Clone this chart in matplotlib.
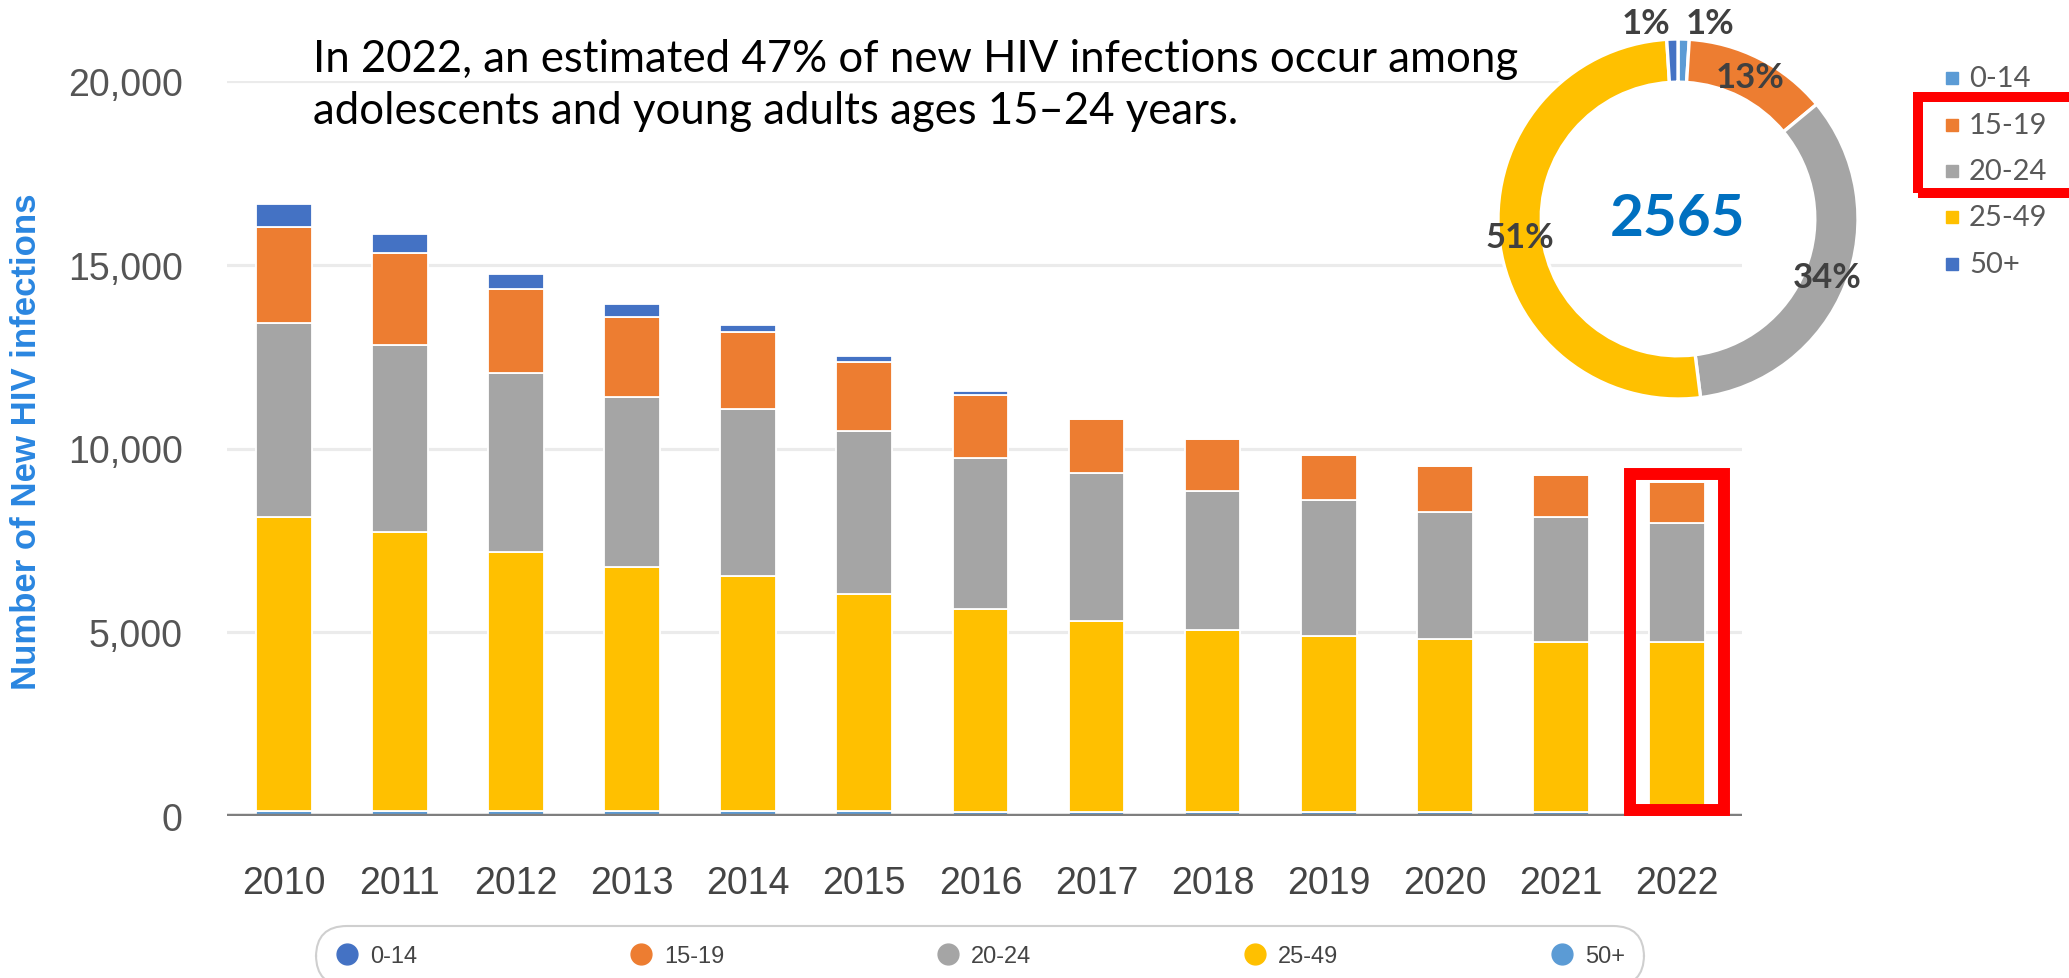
import numpy as np
import matplotlib
matplotlib.use("Agg")
import matplotlib.pyplot as plt
from matplotlib.patches import Rectangle
from matplotlib.lines import Line2D

years = ["2010", "2011", "2012", "2013", "2014", "2015", "2016",
         "2017", "2018", "2019", "2020", "2021", "2022"]
age_groups = ["0-14", "15-19", "20-24", "25-49", "50+"]

# stacked values
v_0_14 = [625, 516, 408, 361, 198, 163, 110, 0, 0, 0, 0, 0, 0]
v_15_19 = [2611, 2495, 2284, 2176, 2087, 1877, 1700, 1468, 1422, 1216, 1235, 1158, 1123]
v_20_24 = [5285, 5102, 4877, 4624, 4550, 4426, 4110, 4018, 3765, 3699, 3463, 3400, 3245]
v_25_49 = [7989, 7581, 7037, 6629, 6384, 5902, 5541, 5203, 4958, 4795, 4705, 4616, 4616]
v_50_plus = [136, 136, 137, 137, 137, 137, 100, 109, 109, 109, 109, 109, 109]

donut_pct = [1, 13, 34, 51, 1]     # 0-14, 15-19, 20-24, 25-49, 50+ (2022)
donut_total = "2565"

bar_colors = {"0-14": "#4472C4", "15-19": "#ED7D31", "20-24": "#A5A5A5",
              "25-49": "#FFC000", "50+": "#5B9BD5"}
donut_colors = ["#5B9BD5", "#ED7D31", "#A5A5A5", "#FFC000", "#4472C4"]

W, H = 2069, 979
fig = plt.figure(figsize=(W / 100, H / 100), dpi=100)
fig.patch.set_facecolor("white")

# main bar axes
ax = fig.add_axes([227 / W, (H - 817) / H, (1742 - 227) / W, (817 - 82) / H])
x = np.arange(len(years))
bw = 0.48
stack = [("50+", v_50_plus), ("25-49", v_25_49), ("20-24", v_20_24),
         ("15-19", v_15_19), ("0-14", v_0_14)]
bottom = np.zeros(len(years))
for name, vals in stack:
    vals = np.array(vals, dtype=float)
    ax.bar(x, vals, bw, bottom=bottom, color=bar_colors[name],
           edgecolor="white", linewidth=1.3, zorder=3)
    bottom += vals

ax.set_xlim(-0.49, 12.56)
ax.set_ylim(0, 20000)
ax.set_yticks([0, 5000, 10000, 15000, 20000])
ax.set_yticklabels(["0", "5,000", "10,000", "15,000", "20,000"])
ax.grid(axis="y", color="#ebebeb", linewidth=2.3, zorder=0)
ax.set_axisbelow(True)
for s in ax.spines.values():
    s.set_visible(False)
ax.axhline(0, color="#7f7f7f", linewidth=3.2, zorder=4)
ax.set_xticks(x)
ax.set_xticklabels(years)
ax.tick_params(axis="both", length=0, colors="#444444", labelsize=27)
ax.tick_params(axis="y", pad=32, labelcolor="#555555")
ax.tick_params(axis="x", pad=35)
for lab in ax.get_xticklabels() + ax.get_yticklabels():
    lab.set_fontfamily("Liberation Sans")
ax.set_ylabel("Number of New HIV infections", fontsize=25, fontweight="bold",
              color="#2a86e0", family="Liberation Sans")
ax.yaxis.set_label_coords(-184 / (1742 - 227), 0.51)

# red highlight around 2022 bar
ax.add_patch(Rectangle((12 - 0.405, 163), 0.81, 9140, fill=False,
                       edgecolor="#ff0000", linewidth=8.6, clip_on=False, zorder=6))

# headline text
fig.text(313 / W, 1 - 59 / H,
         "In 2022, an estimated 47% of new HIV infections occur among",
         fontsize=31.5, family="Lato", va="center", ha="left", color="black")
fig.text(313 / W, 1 - 111 / H,
         "adolescents and young adults ages 15\u201324 years.",
         fontsize=31.5, family="Lato", va="center", ha="left", color="black")

# donut
cx, cy, R = 1678, 220, 180
ax2 = fig.add_axes([(cx - R) / W, (H - cy - R) / H, 2 * R / W, 2 * R / H])
ax2.pie(donut_pct, colors=donut_colors, startangle=90, counterclock=False,
        radius=1, wedgeprops=dict(width=0.24, edgecolor="white", linewidth=2.4))
ax2.set_xlim(-1, 1)
ax2.set_ylim(-1, 1)
ax2.axis("off")
ax2.text(0, 0, donut_total, fontsize=42, fontweight="bold", color="#0070C0",
         family="Lato", ha="center", va="center")
lbl_pos = [(0.18, 1.09), (0.40, 0.79), (0.83, -0.32), (-0.88, -0.10), (-0.18, 1.09)]
for p, (px, py) in zip(donut_pct, lbl_pos):
    ax2.text(px, py, f"{p}%", fontsize=25, fontweight="bold", color="#404040",
             family="Lato", ha="center", va="center")

# donut legend (right)
row_y = [79, 126, 172, 218, 265]
for lab, c, ry in zip(age_groups, donut_colors, row_y):
    fig.add_artist(Line2D([1951.5 / W], [1 - ry / H], transform=fig.transFigure,
                          marker="s", ls="", markersize=8.2, color=c))
    fig.text(1969 / W, 1 - ry / H, lab, fontsize=21, family="Lato",
             color="#595959", ha="left", va="center")

fig.add_artist(Rectangle((1918 / W, 1 - 194 / H), 170 / W, 96 / H,
                         transform=fig.transFigure, fill=False,
                         edgecolor="#ff0000", linewidth=7.2, clip_on=False))

# bottom legend
h_bot = [Line2D([], [], marker="o", ls="", markersize=15, color=bar_colors[g]) for g in age_groups]
leg_b = fig.legend(h_bot, age_groups, loc="center", ncol=5,
                   bbox_to_anchor=(((315 + 1645) / 2) / W, 1 - 957 / H),
                   frameon=True, prop={"family": "Liberation Sans", "size": 17},
                   labelcolor="#444444", handlelength=1.0, handletextpad=0.5,
                   columnspacing=8.95, borderpad=0.8)
fr = leg_b.get_frame()
fr.set_edgecolor("#c4c4c4")
fr.set_linewidth(1.5)
fr.set_boxstyle("round", pad=0, rounding_size=1.3)

fig.savefig("out.png", dpi=100, facecolor="white")
